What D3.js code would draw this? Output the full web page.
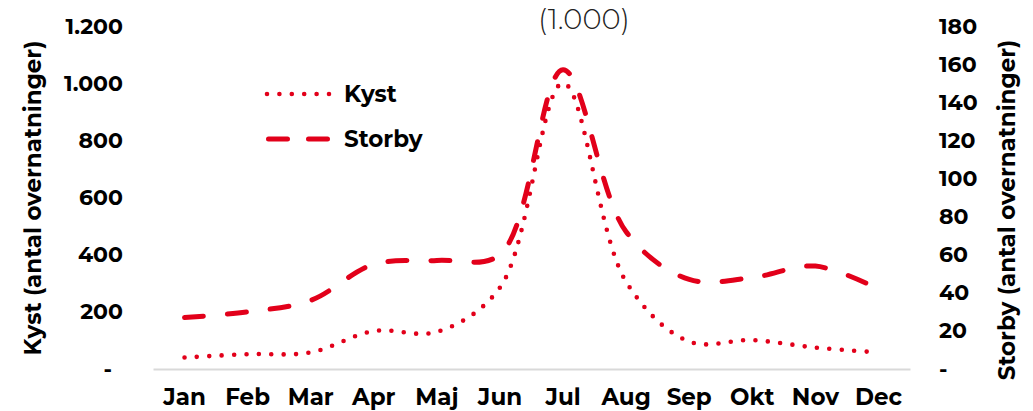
<!DOCTYPE html>
<html>
<head>
<meta charset="utf-8">
<script src="https://cdn.jsdelivr.net/npm/d3@7"></script>
<style>
  body { margin: 0; background: #fff; }
  svg { display: block; }
  svg text { font-family: Montserrat, "DejaVu Sans", sans-serif; }
</style>
</head>
<body>
<svg></svg>
<script>
const w = 1033;
const h = 411;
const red = '#e2001a';

const months = ['Jan', 'Feb', 'Mar', 'Apr', 'Maj', 'Jun', 'Jul', 'Aug', 'Sep', 'Okt', 'Nov', 'Dec'];
const kyst = [40, 52, 58, 133, 130, 285, 1000, 305, 96, 101, 75, 58];
const storby = [27, 30, 36, 55, 57, 60, 157, 72, 47, 48, 54, 42];

const leftTicks = [0, 200, 400, 600, 800, 1000, 1200];
const leftLabels = ['-\u2002', '200', '400', '600', '800', '1.000', '1.200'];
const rightTicks = [0, 20, 40, 60, 80, 100, 120, 140, 160, 180];
const rightLabels = ['-', '20', '40', '60', '80', '100', '120', '140', '160', '180'];

const legendNames = ['Kyst', 'Storby'];
const peakNote = '(1.000)';

let canvas = d3.select('svg').attr('width', w).attr('height', h);

let xScale = d3.scaleBand().domain(months).range([153, 910]).padding(0);
let yLeft = d3.scaleLinear().domain([0, 1200]).range([369, 26]);
let yRight = d3.scaleLinear().domain([0, 180]).range([369, 26]);

const cx = (m) => xScale(m) + xScale.bandwidth() / 2;

// axes
const xAxis = d3.axisBottom(xScale).tickSize(0).tickSizeOuter(0).tickPadding(20);
const gx = canvas.append('g').attr('transform', 'translate(0,369)').call(xAxis);
gx.attr('font-family', null);
gx.select('.domain').attr('stroke', '#d9d9d9').attr('stroke-width', 2);
gx.selectAll('text').attr('font-size', 23).attr('font-weight', 'bold').attr('fill', '#000');

const yAxisL = d3.axisLeft(yLeft).tickValues(leftTicks).tickSize(0).tickPadding(6)
	.tickFormat((d, i) => leftLabels[i]);
const gl = canvas.append('g').attr('transform', 'translate(129,0)').call(yAxisL);
gl.attr('font-family', null);
gl.select('.domain').remove();
gl.selectAll('text').attr('font-size', 22).attr('font-weight', 'bold').attr('fill', '#000');

const yAxisR = d3.axisRight(yRight).tickValues(rightTicks).tickSize(0).tickPadding(6)
	.tickFormat((d, i) => rightLabels[i]);
const gr = canvas.append('g').attr('transform', 'translate(933,0)').call(yAxisR);
gr.attr('font-family', null);
gr.select('.domain').remove();
gr.selectAll('text').attr('font-size', 22).attr('font-weight', 'bold').attr('fill', '#000');

// axis titles
canvas.append('text')
	.attr('transform', 'translate(41,198) rotate(-90)')
	.attr('text-anchor', 'middle')
	.attr('font-size', 23).attr('font-weight', 'bold')
	.text('Kyst (antal overnatninger)');
canvas.append('text')
	.attr('transform', 'translate(1015,210) rotate(-90)')
	.attr('text-anchor', 'middle')
	.attr('font-size', 23).attr('font-weight', 'bold')
	.text('Storby (antal overnatninger)');

// lines
const curve = d3.curveCatmullRom.alpha(0.5);
const kystLine = d3.line().x((d, i) => cx(months[i])).y((d) => yLeft(d)).curve(curve);
const storbyLine = d3.line().x((d, i) => cx(months[i])).y((d) => yRight(d)).curve(curve);

canvas.append('path')
	.attr('d', storbyLine(storby))
	.attr('fill', 'none').attr('stroke', red).attr('stroke-width', 5)
	.attr('stroke-linecap', 'round').attr('stroke-dasharray', '19 24');

canvas.append('path')
	.attr('d', kystLine(kyst))
	.attr('fill', 'none').attr('stroke', red).attr('stroke-width', 4.6)
	.attr('stroke-linecap', 'round').attr('stroke-dasharray', '0 12.4');

// legend
const legend = canvas.append('g');
legend.append('line')
	.attr('x1', 267).attr('x2', 330).attr('y1', 94).attr('y2', 94)
	.attr('stroke', red).attr('stroke-width', 4.6)
	.attr('stroke-linecap', 'round').attr('stroke-dasharray', '0 12.4');
legend.append('line')
	.attr('x1', 268.5).attr('x2', 327.5).attr('y1', 139).attr('y2', 139)
	.attr('stroke', red).attr('stroke-width', 5)
	.attr('stroke-linecap', 'round').attr('stroke-dasharray', '19 21');
legend.selectAll('text.leg')
	.data(legendNames)
	.enter()
	.append('text')
	.attr('class', 'leg')
	.attr('x', 344)
	.attr('y', (d, i) => 102 + i * 45)
	.attr('font-size', 23).attr('font-weight', 'bold')
	.text((d) => d);

// peak note
canvas.append('text')
	.attr('x', 584).attr('y', 29)
	.attr('text-anchor', 'middle')
	.attr('font-size', 29).attr('font-weight', 300).attr('fill', '#222')
	.text(peakNote);
</script>
</body>
</html>
